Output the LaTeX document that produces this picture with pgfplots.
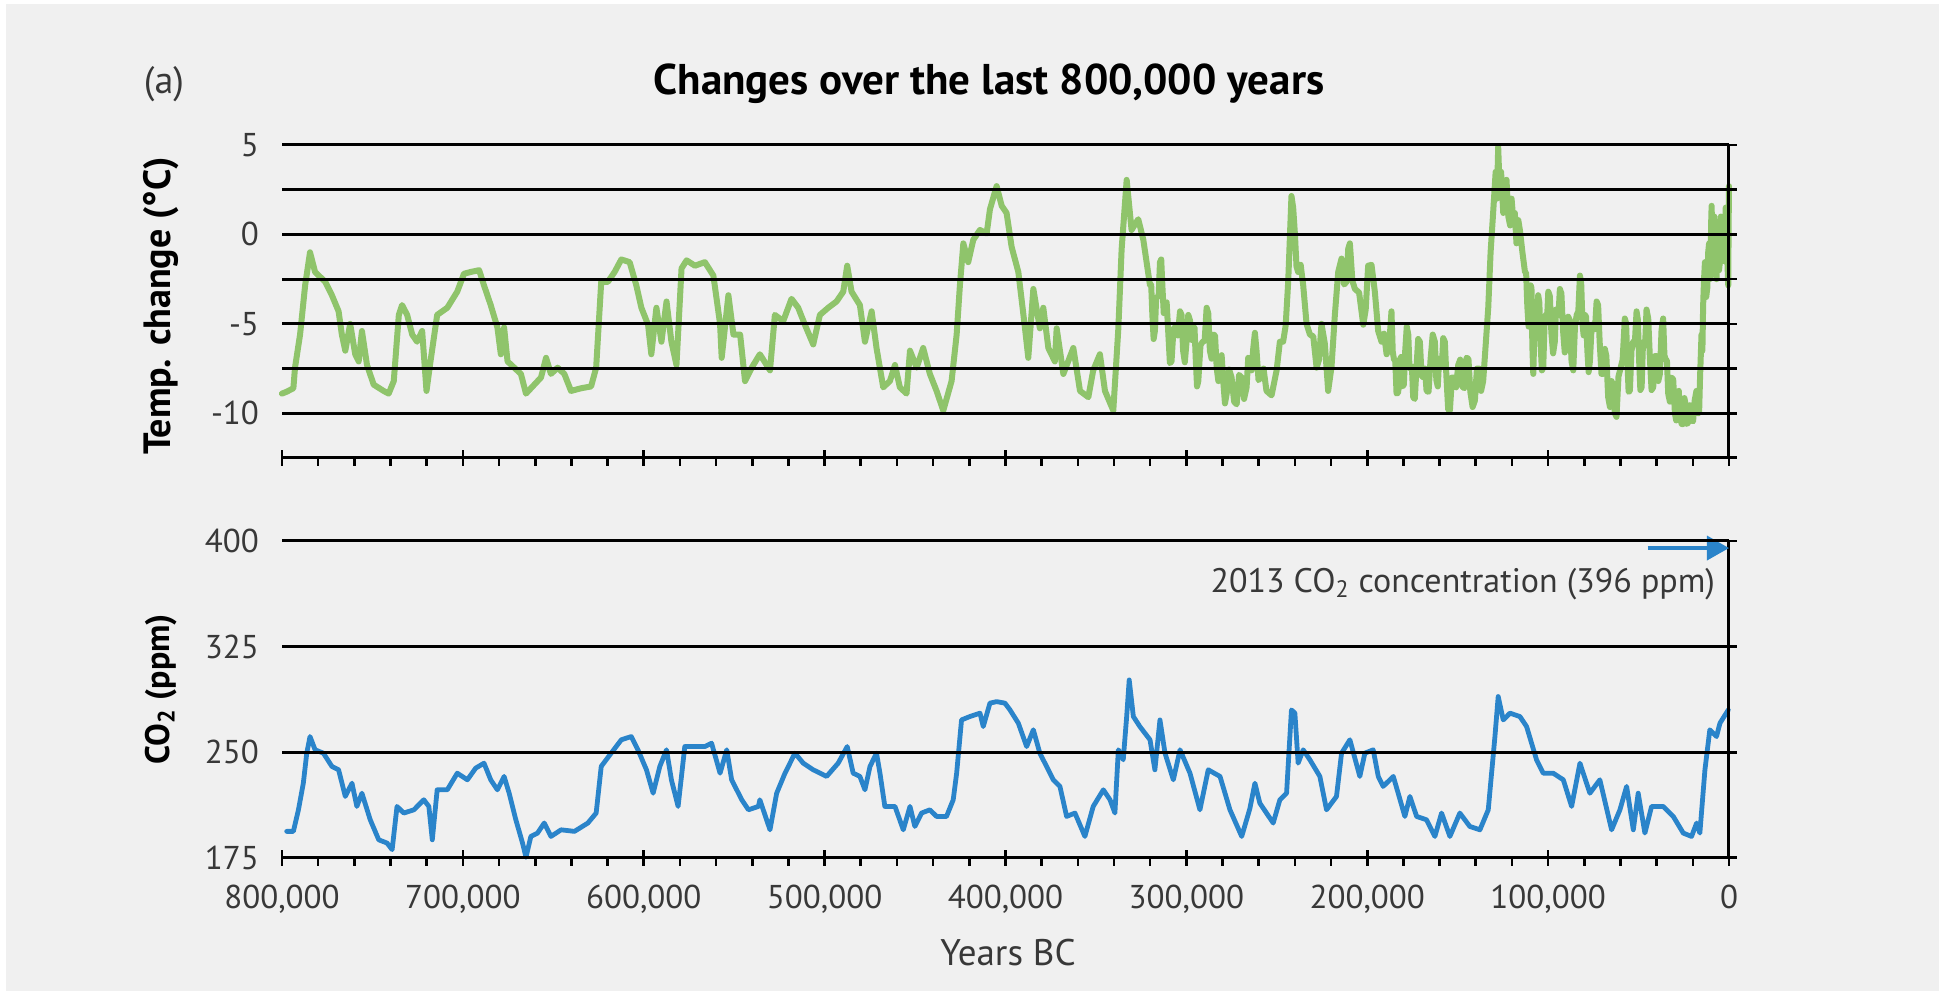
\documentclass[border=0pt]{standalone}
\usepackage{fontspec}
\setmainfont{PT Sans}
\usepackage{pgfplots}
\pgfplotsset{compat=1.18}
\usetikzlibrary{arrows.meta}
\definecolor{bg}{HTML}{F0F0F0}
\definecolor{tgreen}{HTML}{8FC46B}
\definecolor{cblue}{HTML}{2A84CA}
\definecolor{lbl}{HTML}{383838}

\pgfplotsset{
  panel/.style={
    scale only axis, width=723.5pt,
    xmin=0, xmax=800000, x dir=reverse,
    scaled x ticks=false,
    clip=false, axis on top,
    axis line style={draw=none},
    xtick={0,100000,...,800000},
    minor x tick num=4,
    xtick pos=bottom,
    ytick pos=right, yticklabel pos=left,
    tick align=center,
    major tick length=8pt, minor tick length=4pt,
    tick style={black, line width=1.3pt},
    minor x tick style={yshift=-2pt},
    minor y tick style={xshift=2pt},
    ymajorgrids,
    grid style={black, line width=1.5pt},
    ticklabel style={font=\fontsize{16.5}{18}\selectfont, text=lbl},
    yticklabel style={xshift=-4pt},
    xticklabel style={yshift=-6pt},
  }
}

\begin{document}
\begin{tikzpicture}
\fill[white] (0,0) rectangle (969.5pt,495.5pt);
\fill[bg] (3pt,0) rectangle (969.5pt,493.5pt);

% ---------------- top panel: temperature ----------------
\begin{axis}[panel,
  at={(141pt,266.5pt)}, anchor=south west, height=156.5pt,
  ymin=-12.5, ymax=5,
  ytick={-10,-5,0,5}, yticklabels={-10,-5,0,5},
  minor ytick={-7.5,-2.5,2.5}, yminorgrids,
  minor grid style={black, line width=1.5pt},
  xticklabels={},
]
\addplot[tgreen, line width=3pt, line join=round, line cap=round] coordinates {
(800000,-8.9)(797500,-8.8)(793700,-8.6)(792800,-7.45)(790000,-5.6)(787200,-2.85)(784500,-1.0)
(781700,-2.1)(776100,-2.65)(772400,-3.4)(768700,-4.3)(766900,-5.6)(765000,-6.5)(762300,-5.0)
(759500,-6.7)(757600,-7.1)(755800,-5.4)(753000,-7.3)(749300,-8.4)(743800,-8.75)(741000,-8.9)
(738200,-8.2)(735400,-4.5)(733600,-3.95)(730800,-4.5)(728000,-5.6)(725300,-6.0)(722500,-5.4)
(720100,-8.75)(717900,-7.1)(714200,-4.5)(708600,-4.1)(703100,-3.2)(699400,-2.2)(695700,-2.1)
(691000,-2.0)(688300,-2.85)(684600,-3.95)(680900,-5.2)(679000,-6.7)(677200,-5.2)(675300,-7.1)
(671600,-7.45)(667900,-7.8)(665100,-8.9)(660500,-8.4)(656800,-8.0)(654000,-6.9)(651300,-7.8)
(647600,-7.45)(643900,-7.8)(640200,-8.75)(634600,-8.6)(629100,-8.5)(626300,-7.45)(623500,-2.65)
(619800,-2.65)(616100,-2.1)(612400,-1.4)(607800,-1.55)(604100,-2.85)(601300,-4.1)(597600,-5.05)
(595800,-6.7)(593000,-4.1)(590200,-6.0)(587400,-3.75)(584700,-6.0)(581900,-7.3)(579100,-1.9)
(576300,-1.45)(571700,-1.75)(566200,-1.55)(561500,-2.3)(557800,-5.0)(556900,-6.9)(553200,-3.4)
(550400,-5.6)(546700,-5.6)(544000,-8.2)(540300,-7.45)(535800,-6.7)(530200,-7.6)(527500,-4.5)
(522900,-4.85)(518300,-3.6)(514600,-4.1)(510900,-5.05)(506300,-6.15)(502600,-4.5)(498000,-4.1)
(493400,-3.75)(489700,-3.2)(487500,-1.75)(485100,-3.2)(480500,-3.95)(477700,-6.0)(474000,-4.3)
(471300,-6.35)(467600,-8.55)(463900,-8.2)(461100,-7.3)(458400,-8.55)(454700,-8.9)(452800,-6.5)
(449100,-7.45)(445500,-6.35)(441800,-7.8)(438100,-8.75)(434400,-9.85)(429800,-8.2)(427000,-5.6)
(425200,-2.85)(423300,-0.5)(420600,-1.55)(417800,-0.3)(414100,0.25)(410400,0.05)(408600,1.4)
(404900,2.7)(402100,1.6)(399400,1.2)(396600,-0.7)(392900,-2.1)(389200,-5.25)(387400,-6.9)
(384600,-3.05)(381000,-5.25)(379100,-4.1)(376300,-6.35)(372700,-7.1)(371700,-5.25)(368000,-7.8)
(362500,-6.35)(358800,-8.75)(354200,-9.1)(351500,-7.6)(347800,-6.7)(345000,-8.75)(340400,-9.85)
(337600,-5.25)(335800,-0.85)(333000,3.05)(330300,0.25)(326600,0.85)(323800,-0.3)
(320100,-2.85)(319450,-2.8)(318800,-4.5)(318100,-5.85)(317400,-5.4)(316700,-3.55)(316000,-3.5)
(315300,-3.4)(314600,-1.55)(313900,-1.4)(313200,-3.0)(312500,-4.4)(311800,-3.95)(310900,-3.8)
(310000,-5.5)(309100,-7.2)(308200,-7.1)(307100,-5.25)(306000,-5.2)(304750,-5.65)(303500,-4.3)
(302650,-4.5)(301800,-6.5)(300850,-7.15)(299900,-6.0)(298950,-4.5)(298000,-4.8)(297100,-5.9)
(296200,-5.25)(295500,-5.2)(294800,-7.0)(294100,-8.5)(293400,-8.2)(292200,-6.2)(291000,-6.0)
(289900,-5.95)(288800,-4.1)(287900,-4.4)(287000,-6.5)(286050,-6.95)(285100,-5.6)(284150,-5.65)
(283200,-7.5)(282300,-8.2)(281400,-7.1)(280500,-6.75)(279600,-8.2)(278650,-9.45)(277700,-8.9)
(276350,-7.55)(275000,-8.0)(273600,-9.35)(272200,-9.5)(270850,-7.85)(269500,-8.0)(268100,-9.2)
(266700,-8.55)(265800,-6.9)(264900,-7.1)(263950,-7.6)(263000,-6.35)(262100,-5.5)(261200,-6.5)
(260100,-8.15)(259000,-8.0)(257350,-7.5)(255700,-8.75)(252900,-9.0)(250100,-7.6)(248300,-6.0)
(246500,-6.0)(245100,-5.1)(243700,-2.65)(241900,2.15)(240950,1.5)(240000,0.05)(239100,-1.8)
(238200,-2.1)(236800,-1.7)(235400,-2.85)(233550,-5.0)(231700,-5.6)(229850,-5.7)(228000,-7.45)
(226650,-7.0)(225300,-5.0)(223450,-6.1)(221600,-8.75)(219750,-7.4)(217900,-4.5)(216050,-2.1)
(214200,-1.35)(212800,-2.8)(211400,-2.65)(210500,-0.8)(209600,-0.5)(208200,-2.6)(206800,-3.05)
(204500,-3.25)(202200,-5.05)(200850,-4.2)(199500,-1.75)(197650,-1.7)(195800,-3.2)(193950,-5.4)
(192100,-6.0)(190700,-5.55)(189300,-6.7)(187950,-6.3)(186600,-4.3)(185900,-6.55)(185200,-7.0)
(184500,-7.05)(183800,-8.9)(182900,-8.85)(182000,-7.0)(181250,-6.85)(180500,-8.5)(179750,-8.4)
(179000,-6.5)(178150,-5.15)(177300,-5.6)(176650,-7.45)(176000,-7.5)(175300,-7.4)(174600,-9.1)
(173700,-9.2)(172800,-7.5)(171850,-5.85)(170900,-6.0)(169950,-7.9)(169000,-8.0)(168100,-7.5)
(167200,-8.75)(166100,-8.8)(165000,-7.0)(163800,-5.6)(162600,-6.0)(161800,-8.15)(161000,-8.5)
(160250,-6.95)(159500,-7.2)(158750,-7.4)(158000,-5.8)(157100,-6.0)(156200,-8.0)(155250,-9.8)
(154300,-9.85)(153150,-8.0)(152000,-8.0)(150850,-8.55)(149700,-7.3)(148600,-7.0)(147500,-8.5)
(146300,-8.6)(145100,-6.9)(144050,-6.95)(143000,-8.8)(141750,-9.65)(140500,-9.3)(139350,-7.5)
(138200,-7.5)(137050,-8.75)(135900,-8.2)
(133100,-4.1)(131800,-1.0)(130400,1.2)(129000,3.5)(128300,2.0)(127600,4.9)(126800,2.5)(126000,3.5)
(124800,1.2)(123900,2.8)(123000,3.05)(122000,1.0)(121000,0.5)(120200,2.0)(119300,0.85)(118400,1.2)
(117500,-0.5)(116500,0.8)(115600,0.25)(114200,-1.0)
(112800,-2.1)(112150,-2.15)(111500,-4.0)(110800,-5.15)(110100,-4.5)(109650,-2.85)(109200,-3.0)
(108700,-6.3)(108200,-7.8)(107600,-5.5)(107000,-5.0)(106250,-5.1)(105500,-3.4)(104850,-3.8)
(104200,-6.0)(103450,-7.6)(102700,-7.45)(102000,-5.1)(101300,-4.5)(100600,-4.75)(99900,-3.2)
(99050,-3.45)(98200,-5.5)(97250,-6.65)(96300,-6.0)(95650,-4.2)(95000,-4.2)(94250,-4.5)(93500,-3.05)
(92650,-3.3)(91800,-5.3)(90800,-6.6)(89800,-6.15)(88900,-4.6)(88000,-4.8)(87050,-7.1)(86100,-7.6)
(85150,-5.15)(84200,-4.5)(83300,-4.3)(82400,-2.3)(81700,-2.75)(81000,-5.0)(80350,-5.65)(79700,-4.5)
(79000,-4.6)(78300,-6.5)(77600,-7.7)(76900,-7.1)(75950,-5.15)(75000,-5.0)(74100,-5.3)(73200,-3.75)
(72350,-3.95)(71500,-6.0)(70500,-7.8)(69500,-7.8)(68650,-6.4)(67800,-6.8)(66800,-9.1)(65800,-9.65)
(64900,-8.2)(64000,-8.5)(63100,-10.0)(62200,-10.2)(61100,-7.95)(60000,-7.5)(58800,-7.0)(57600,-4.7)
(56900,-4.95)(56200,-7.0)(55500,-8.8)(54800,-8.75)(53900,-6.5)(53000,-6.0)(52050,-6.05)(51100,-4.3)
(50400,-4.75)(49700,-7.0)(49000,-8.7)(48300,-8.55)(47650,-6.4)(47000,-6.0)(46300,-6.0)(45600,-4.2)
(44650,-4.7)(43700,-7.0)(42800,-8.7)(41900,-8.55)(40950,-6.8)(40000,-6.8)(39100,-8.2)(38200,-7.8)
(37300,-5.35)(36400,-4.7)(35700,-6.75)(35000,-7.0)(34300,-7.05)(33600,-8.9)(32700,-9.35)(31800,-8.0)
(30850,-8.1)(29900,-10.0)(29200,-10.4)(28500,-9.0)(27750,-8.75)(27000,-10.3)(26150,-10.6)(25300,-10.6)
(24650,-9.15)(24000,-9.5)(23250,-10.6)(22500,-10.5)(21600,-9.55)(20700,-10.4)(19850,-10.45)(19000,-9.3)
(18000,-8.75)(17000,-10.0)(16500,-9.9)(16000,-8.0)(15200,-5.6)
(14700,-6.5)(14300,-4.0)(13800,-2.5)(13300,-1.55)(12600,-3.5)(12000,-3.0)(11500,-1.0)(11000,-0.5)
(10600,-2.5)(10200,-2.0)(9900,0.5)(9600,1.6)(9000,-1.5)(8500,-1.0)(8100,1.0)(7800,0.5)(7300,-2.0)
(6900,-2.5)(6400,0.5)(6000,0.0)(5500,-2.0)(5000,-1.5)(4500,1.0)(4000,0.5)(3600,-1.5)(3200,0.85)
(2700,-0.5)(2200,-1.5)(1800,1.5)(1500,0.5)(900,-1.5)(400,-2.85)(200,0.5)(0,2.7)
};
\draw[black, line width=1.5pt] (rel axis cs:0,0) -- ([xshift=4pt]rel axis cs:1,0);
\draw[black, line width=1.5pt] (rel axis cs:1,0) -- (rel axis cs:1,1);
\end{axis}

% ---------------- bottom panel: CO2 ----------------
\begin{axis}[panel,
  at={(141pt,66.5pt)}, anchor=south west, height=158.5pt,
  ymin=175, ymax=400,
  ytick={175,250,325,400},
  yticklabels={175,250,325,400},
  xticklabels={0,{100,000},{200,000},{300,000},{400,000},{500,000},{600,000},{700,000},{800,000}},
]
\addplot[cblue, line width=2.4pt, line join=round, line cap=round] coordinates {
(797400,193.9)(793700,193.9)(790900,209.2)(788200,228.1)(786300,249.4)(784500,261.2)(781700,251.8)
(777100,249.4)(772400,240.0)(768700,237.6)(765000,218.7)(761300,228.1)(758600,211.6)(755800,221.0)
(751200,202.1)(746500,187.9)(741900,185.6)(739100,180.9)(736400,211.6)(732700,206.9)(727100,209.2)
(721600,216.3)(718800,211.6)(716900,187.9)(714200,223.4)(708600,223.4)(703100,235.2)(697500,230.5)
(692900,238.8)(688300,242.3)(684600,230.5)(680900,223.4)(677200,232.9)(674400,221.0)(670700,202.1)
(667000,185.6)(665100,175.5)(662400,190.3)(658700,192.7)(655000,199.8)(651300,190.3)(645700,195.0)
(638300,193.9)(630900,199.8)(626300,206.9)(623500,240.0)(618000,249.4)(612400,258.9)(606900,261.2)
(603200,251.8)(598500,237.6)(594800,221.0)(591100,240.0)(587400,251.8)(584700,230.5)(581000,211.6)
(577300,254.1)(571700,254.1)(566200,254.1)(562500,256.5)(557800,235.2)(554100,251.8)(551400,230.5)
(545800,216.3)(542100,209.2)(536600,211.6)(535800,216.3)(530200,195.0)(526500,221.0)(521900,235.2)
(516400,249.4)(511800,242.3)(506300,237.6)(498900,232.9)(492500,242.3)(487500,254.1)(484200,235.2)
(480500,232.9)(477700,223.4)(474900,240.0)(471300,249.4)(469400,235.2)(466700,211.6)(461100,211.6)
(456500,195.0)(452800,211.6)(450100,197.4)(446400,206.9)(441800,209.2)(438100,204.5)(432600,204.5)
(428900,216.3)(427000,235.2)(424300,273.0)(419700,275.4)(414100,277.8)(412300,268.3)(408600,284.9)
(404900,286.0)(400300,284.9)(397500,280.1)(392900,270.7)(388300,254.1)(384600,266.0)(381000,249.4)
(377300,240.0)(373600,230.5)(369900,225.8)(366200,204.5)(361600,206.9)(356100,190.3)(351500,211.6)
(345900,223.4)(342200,216.3)(339500,206.9)(337600,251.8)(334900,244.7)(333000,275.4)(331600,301.4)
(329300,275.4)(325700,268.3)(320100,258.9)(317400,237.6)(314600,273.0)(311800,249.4)(307200,230.5)
(303500,251.8)(298000,235.2)(292500,209.2)(287900,237.6)(281400,232.9)(275900,209.2)(269400,190.3)
(264900,210.0)(262100,228.1)(259400,214.0)(252000,199.8)(248300,216.3)(244600,221.0)(241900,280.1)
(240000,277.8)(238200,242.3)(235400,251.8)(231700,244.7)(226200,232.9)(222500,209.2)(217000,218.7)
(214200,249.4)(209600,258.9)(204100,232.9)(201300,249.4)(196700,251.8)(193900,232.9)(191200,225.8)
(185600,232.9)(182900,221.0)(179200,204.5)(176400,218.7)(172700,204.5)(167200,202.1)(162600,190.3)
(158900,206.9)(154300,190.3)(148800,206.9)(143300,197.4)(137700,195.0)(133100,209.2)(129400,261.2)
(127600,289.6)(124800,273.0)(121100,277.8)(115600,275.4)(111900,268.3)(106400,244.7)(102700,235.2)
(97200,235.2)(91600,230.5)(87000,211.6)(82400,242.3)(76900,221.0)(71400,230.5)(64900,195.0)
(60300,209.2)(56600,225.8)(52900,195.0)(50200,221.0)(46500,192.7)(42800,211.6)(36400,211.6)
(30800,204.5)(25300,192.7)(20700,190.3)(17900,199.8)(16100,192.7)(13300,237.6)(10600,266.0)
(6900,261.2)(5000,270.7)(400,280.1)
};
\draw[black, line width=1.5pt] (rel axis cs:0,0) -- ([xshift=4pt]rel axis cs:1,0);
\draw[black, line width=1.5pt] (rel axis cs:1,0) -- (rel axis cs:1,1);
\draw[cblue, line width=1.8pt, -{Triangle[length=11pt,width=12pt]}] (axis cs:45000,395) -- (axis cs:0,395);
\end{axis}

% ---------------- texts ----------------
\node[font=\fontsize{21.5}{23}\selectfont\bfseries, text=black] at (494.5pt,453.5pt) {Changes over the last 800,000 years};
\node[font=\fontsize{19}{21}\selectfont, text=lbl] at (82pt,453.5pt) {(a)};
\node[rotate=90, font=\fontsize{19}{21}\selectfont\bfseries, text=black] at (80.5pt,342.5pt) {Temp. change (°C)};
\node[rotate=90, font=\fontsize{17}{19}\selectfont\bfseries, text=black] at (80.5pt,151pt) {CO\textsubscript{2} (ppm)};
\node[font=\fontsize{18.5}{20}\selectfont, text=lbl] at (504pt,19pt) {Years BC};
\node[anchor=east, font=\fontsize{17}{19}\selectfont, text=lbl] at (861pt,203.5pt) {2013 CO\textsubscript{2} concentration (396 ppm)};

\pgfresetboundingbox
\useasboundingbox (0,0) rectangle (969.5pt,495.5pt);
\end{tikzpicture}
\end{document}
